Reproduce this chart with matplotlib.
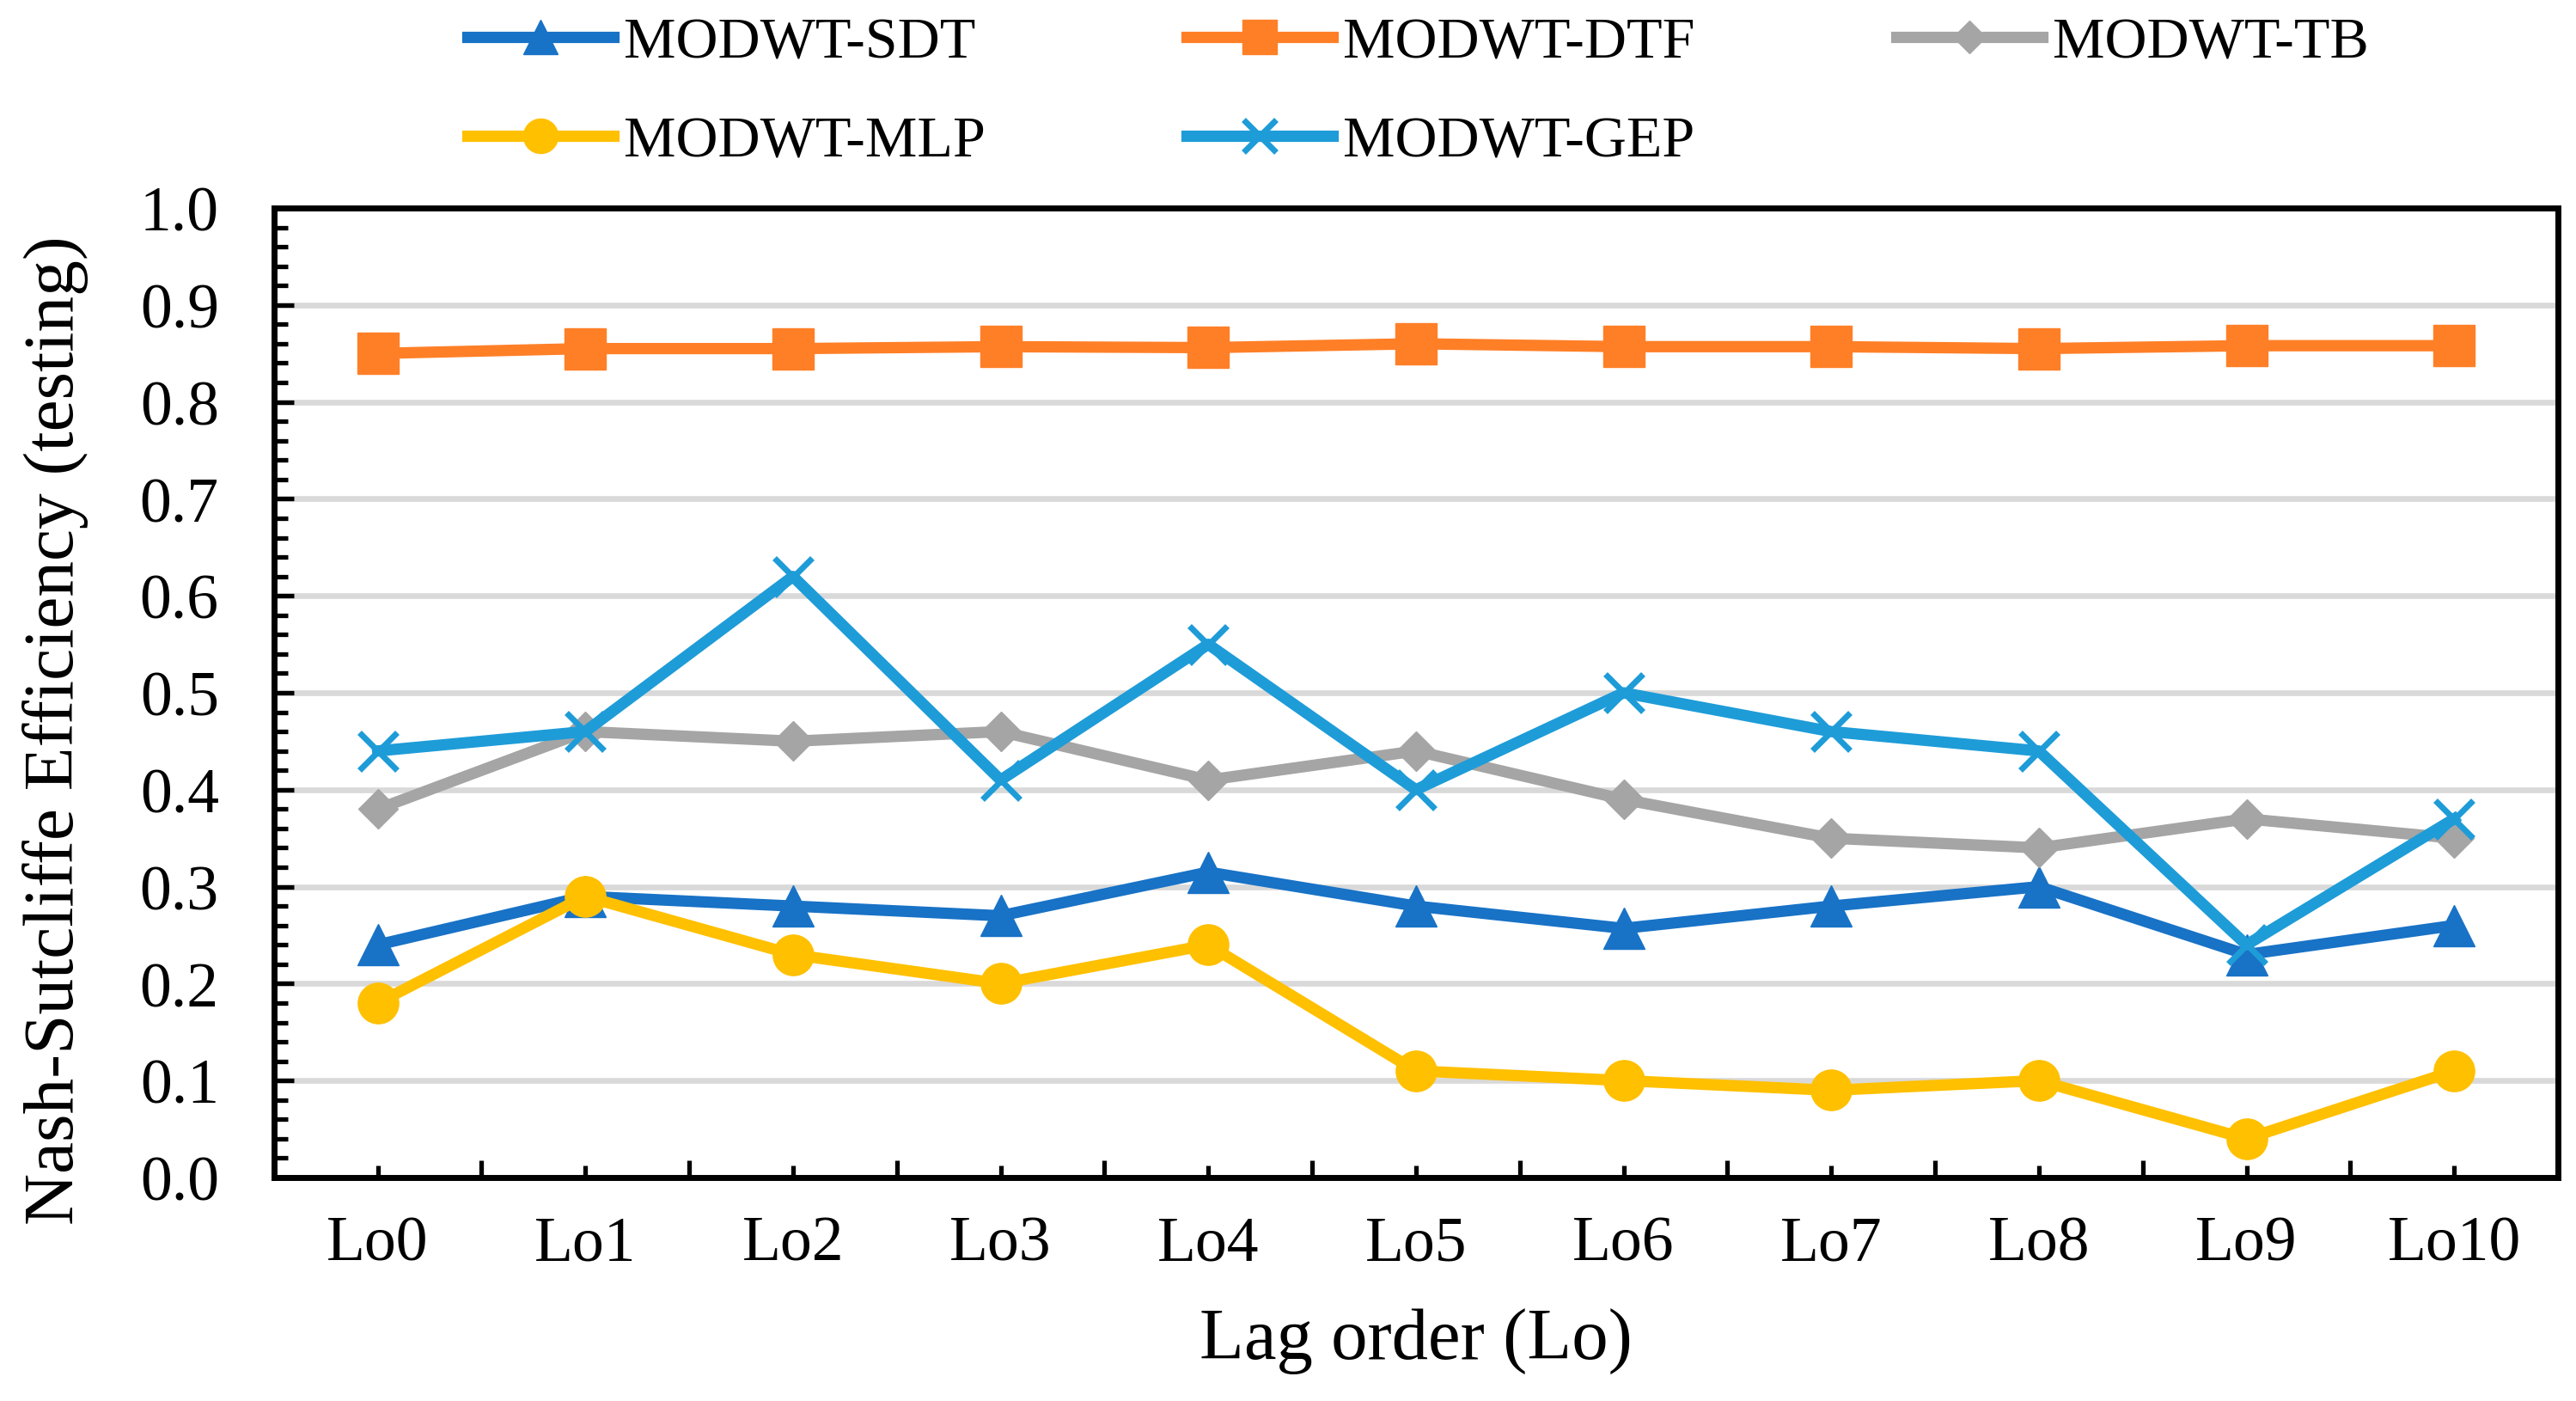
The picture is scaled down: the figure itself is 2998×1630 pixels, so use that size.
import numpy as np
import matplotlib
matplotlib.use("Agg")
import matplotlib.pyplot as plt
from matplotlib.ticker import MultipleLocator, FixedLocator

plt.rcParams['font.family'] = ['Liberation Serif', 'DejaVu Serif']

lags = ['Lo0', 'Lo1', 'Lo2', 'Lo3', 'Lo4', 'Lo5', 'Lo6', 'Lo7', 'Lo8', 'Lo9', 'Lo10']

sdt = [0.24, 0.29, 0.28, 0.27, 0.315, 0.28, 0.257, 0.28, 0.30, 0.23, 0.26]
dtf = [0.85, 0.855, 0.855, 0.857, 0.856, 0.86, 0.857, 0.857, 0.855, 0.858, 0.858]
tb = [0.38, 0.46, 0.45, 0.46, 0.41, 0.44, 0.39, 0.35, 0.34, 0.37, 0.35]
mlp = [0.18, 0.29, 0.23, 0.20, 0.24, 0.11, 0.10, 0.09, 0.10, 0.04, 0.11]
gep = [0.44, 0.46, 0.62, 0.41, 0.55, 0.40, 0.50, 0.46, 0.44, 0.24, 0.37]

# (label, values, color, marker, markersize)
series = [
    ('MODWT-SDT', sdt, '#1872C6', '^', 34),
    ('MODWT-DTF', dtf, '#FF7F27', 's', 34),
    ('MODWT-TB', tb, '#A5A5A5', 'D', 23),
    ('MODWT-MLP', mlp, '#FFC000', 'o', 34),
    ('MODWT-GEP', gep, '#1E9CD8', 'x', 32),
]

fig = plt.figure(figsize=(29.98, 16.31), dpi=100)
ax = fig.add_axes([0.1063, 0.1594, 0.8867, 0.6916])

x = np.arange(len(lags))
handles = {}
for name, vals, col, mk, ms in series:
    if mk == 'x':
        h, = ax.plot(x, vals, color=col, lw=9.5, marker=mk, ms=ms, mew=5, zorder=3)
    else:
        h, = ax.plot(x, vals, color=col, lw=9.5, marker=mk, ms=ms, mec=col, mew=1, zorder=3)
    handles[name] = h

ax.set_xlim(-0.5, len(lags) - 0.5)
ax.set_ylim(0, 1.0)
ax.set_xticks(x)
ax.set_xticklabels(lags)
ax.xaxis.set_minor_locator(FixedLocator(np.arange(0.5, len(lags) - 1, 1.0)))
ax.yaxis.set_major_locator(MultipleLocator(0.1))
ax.yaxis.set_minor_locator(MultipleLocator(0.02))
ax.yaxis.set_major_formatter(matplotlib.ticker.FormatStrFormatter('%.1f'))

ax.tick_params(axis='y', which='major', direction='in', length=16.5, width=3.8,
               labelsize=53, pad=46)
ax.tick_params(axis='y', which='minor', direction='in', length=11.5, width=3.8)
ax.tick_params(axis='x', which='major', direction='in', length=10, width=3.8,
               labelsize=53, pad=32)
ax.tick_params(axis='x', which='minor', direction='in', length=14.5, width=3.8)
ax.tick_params(right=False, top=False, which='both')

for sp in ax.spines.values():
    sp.set_linewidth(5)
    sp.set_zorder(4)

ax.yaxis.grid(True, color='#D9D9D9', lw=4.8, zorder=0)
ax.set_axisbelow(True)

ax.set_xlabel('Lag order (Lo)', fontsize=61, labelpad=28)
ax.set_ylabel('Nash-Sutcliffe Efficiency (testing)', fontsize=60)
ax.yaxis.set_label_coords(-0.081, 0.462)

order = ['MODWT-SDT', 'MODWT-MLP', 'MODWT-DTF', 'MODWT-GEP', 'MODWT-TB']
fig.legend([handles[k] for k in order], order, ncol=3, loc='center',
           bbox_to_anchor=(0.5505, 0.9335), frameon=False, fontsize=49,
           handlelength=2.5, handletextpad=0.17, columnspacing=3.45,
           labelspacing=0.78, markerscale=0.85)

fig.savefig('out.png', dpi=100)
